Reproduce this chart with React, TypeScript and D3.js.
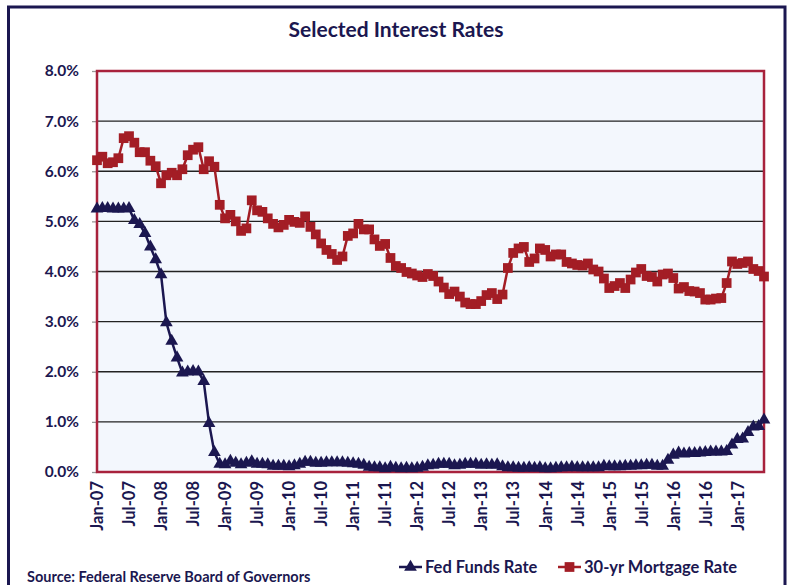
import React, { useEffect, useRef } from "react";
import * as d3 from "d3";

// monthly, Jan-07 .. Jun-17
const years = ["07", "08", "09", "10", "11", "12", "13", "14", "15", "16", "17"];
const monthNames = ["Jan", "Feb", "Mar", "Apr", "May", "Jun", "Jul", "Aug", "Sep", "Oct", "Nov", "Dec"];

const fedFunds = [
  5.25, 5.26, 5.26, 5.25, 5.25, 5.25, 5.26, 5.02, 4.94, 4.76, 4.49, 4.24,
  3.94, 2.98, 2.61, 2.28, 1.98, 2.0, 2.01, 2.0, 1.81, 0.97, 0.39, 0.16,
  0.15, 0.22, 0.18, 0.15, 0.18, 0.21, 0.16, 0.16, 0.15, 0.12, 0.12, 0.12,
  0.11, 0.13, 0.16, 0.2, 0.2, 0.18, 0.18, 0.19, 0.19, 0.19, 0.19, 0.18,
  0.17, 0.16, 0.14, 0.1, 0.09, 0.09, 0.07, 0.1, 0.08, 0.07, 0.08, 0.07,
  0.08, 0.1, 0.13, 0.14, 0.16, 0.16, 0.16, 0.13, 0.14, 0.16, 0.16, 0.16,
  0.14, 0.15, 0.14, 0.15, 0.11, 0.09, 0.09, 0.08, 0.08, 0.09, 0.08, 0.09,
  0.07, 0.07, 0.08, 0.09, 0.09, 0.1, 0.09, 0.09, 0.09, 0.09, 0.09, 0.12,
  0.11, 0.11, 0.11, 0.12, 0.12, 0.13, 0.13, 0.14, 0.14, 0.12, 0.12, 0.24,
  0.34, 0.38, 0.36, 0.37, 0.37, 0.38, 0.39, 0.4, 0.4, 0.4, 0.41, 0.54,
  0.65, 0.66, 0.79, 0.9, 0.91, 1.04,
];

const mortgage = [
  6.22, 6.29, 6.16, 6.18, 6.26, 6.66, 6.7, 6.57, 6.38, 6.38, 6.21, 6.1,
  5.76, 5.92, 5.97, 5.92, 6.04, 6.32, 6.43, 6.48, 6.04, 6.2, 6.09, 5.33,
  5.06, 5.13, 5.0, 4.81, 4.86, 5.42, 5.22, 5.19, 5.06, 4.95, 4.88, 4.93,
  5.03, 4.99, 4.97, 5.1, 4.89, 4.74, 4.56, 4.43, 4.35, 4.23, 4.3, 4.71,
  4.76, 4.95, 4.84, 4.84, 4.64, 4.51, 4.55, 4.27, 4.11, 4.07, 3.99, 3.96,
  3.92, 3.89, 3.95, 3.91, 3.8, 3.68, 3.55, 3.6, 3.5, 3.38, 3.35, 3.35,
  3.41, 3.53, 3.57, 3.45, 3.54, 4.07, 4.37, 4.46, 4.49, 4.19, 4.26, 4.46,
  4.43, 4.3, 4.34, 4.34, 4.19, 4.16, 4.13, 4.12, 4.16, 4.04, 4.0, 3.86,
  3.67, 3.71, 3.77, 3.67, 3.84, 3.98, 4.05, 3.91, 3.89, 3.8, 3.94, 3.96,
  3.87, 3.66, 3.69, 3.61, 3.6, 3.57, 3.44, 3.44, 3.46, 3.47, 3.77, 4.2,
  4.15, 4.17, 4.2, 4.05, 4.01, 3.9,
];

const yTicks = [0, 1, 2, 3, 4, 5, 6, 7, 8];

const months: string[] = [];
years.forEach((y) => monthNames.forEach((m) => months.push(`${m}-${y}`)));
const categories = months.slice(0, fedFunds.length);

const NAVY = "#1b1750";
const RED = "#a31d25";
const FONT = "Lato, 'Open Sans', sans-serif";

export default function App() {
  const ref = useRef<SVGSVGElement>(null);

  useEffect(() => {
    const svg = d3.select(ref.current);
    svg.selectAll("*").remove();
    const width = 791;
    const height = 585;
    const margin = { top: 71, right: 27, bottom: 113, left: 97 };

    svg.attr("width", width).attr("height", height).style("font-family", FONT);

    // outer frame
    svg
      .append("rect")
      .attr("x", 8.5)
      .attr("y", 7)
      .attr("width", 776.5)
      .attr("height", 600)
      .attr("fill", "white")
      .attr("stroke", NAVY)
      .attr("stroke-width", 3);

    const x = d3
      .scalePoint<string>()
      .domain(categories)
      .range([margin.left, width - margin.right]);
    const y = d3
      .scaleLinear()
      .domain([0, 8])
      .range([height - margin.bottom, margin.top]);

    // plot background
    svg
      .append("rect")
      .attr("x", margin.left)
      .attr("y", margin.top)
      .attr("width", width - margin.left - margin.right)
      .attr("height", height - margin.top - margin.bottom)
      .attr("fill", "#f3f7fd");

    // gridlines
    svg
      .append("g")
      .selectAll("line")
      .data(yTicks.slice(1, -1))
      .join("line")
      .attr("x1", margin.left)
      .attr("x2", width - margin.right)
      .attr("y1", (d) => y(d))
      .attr("y2", (d) => y(d))
      .attr("stroke", "#222")
      .attr("stroke-width", 1.3);

    // y axis
    const gy = svg
      .append("g")
      .attr("transform", `translate(${margin.left},0)`)
      .call(
        d3
          .axisLeft(y)
          .tickValues(yTicks)
          .tickSize(5)
          .tickFormat((d) => `${(+d).toFixed(1)}%`)
      );
    gy.select(".domain").remove();
    gy.selectAll(".tick line").attr("stroke", "#999").attr("stroke-width", 1.3);
    gy.selectAll(".tick text")
      .attr("x", -18)
      .attr("fill", NAVY)
      .style("font-size", "15.5px")
      .style("font-weight", "bold")
      .style("font-family", FONT);

    // x axis labels
    const gx = svg
      .append("g")
      .attr("transform", `translate(0,${height - margin.bottom})`)
      .call(
        d3
          .axisBottom(x)
          .tickValues(categories.filter((_, i) => i % 6 === 0))
          .tickSize(0)
      );
    gx.select(".domain").remove();
    gx.selectAll(".tick text")
      .attr("transform", "rotate(-90)")
      .attr("text-anchor", "end")
      .attr("x", -9)
      .attr("y", 0)
      .attr("dy", "0.35em")
      .attr("fill", NAVY)
      .style("font-size", "16.5px")
      .style("font-weight", "bold")
      .style("font-family", FONT);

    // plot border
    svg
      .append("rect")
      .attr("x", margin.left)
      .attr("y", margin.top)
      .attr("width", width - margin.left - margin.right)
      .attr("height", height - margin.top - margin.bottom)
      .attr("fill", "none")
      .attr("stroke", "#a8223c")
      .attr("stroke-width", 2.5);

    const tri = d3.symbol().type(d3.symbolTriangle).size(70);
    const sq = d3.symbol().type(d3.symbolSquare).size(95);

    const drawSeries = (vals: number[], color: string, sym: any) => {
      const line = d3
        .line<number>()
        .x((_, i) => x(categories[i])!)
        .y((d) => y(d));
      svg
        .append("path")
        .datum(vals)
        .attr("d", line)
        .attr("fill", "none")
        .attr("stroke", color)
        .attr("stroke-width", 2.5);
      svg
        .append("g")
        .selectAll("path")
        .data(vals)
        .join("path")
        .attr("d", sym)
        .attr("transform", (d, i) => `translate(${x(categories[i])},${y(d)})`)
        .attr("fill", color);
    };

    drawSeries(mortgage, RED, sq);
    drawSeries(fedFunds, NAVY, tri);

    // title
    svg
      .append("text")
      .attr("x", 396)
      .attr("y", 37)
      .attr("text-anchor", "middle")
      .attr("fill", NAVY)
      .style("font-size", "21px")
      .style("font-weight", "bold")
      .text("Selected Interest Rates");

    // legend
    const legend = [
      { label: "Fed Funds Rate", color: NAVY, sym: tri, x: 399 },
      { label: "30-yr Mortgage Rate", color: RED, sym: sq, x: 558 },
    ];
    const lg = svg.append("g");
    legend.forEach((l) => {
      lg.append("line")
        .attr("x1", l.x)
        .attr("x2", l.x + 23)
        .attr("y1", 567)
        .attr("y2", 567)
        .attr("stroke", l.color)
        .attr("stroke-width", 2.5);
      lg.append("path")
        .attr("d", l.sym)
        .attr("transform", `translate(${l.x + 11.5},567)`)
        .attr("fill", l.color);
      lg.append("text")
        .attr("x", l.x + 26)
        .attr("y", 573)
        .attr("fill", NAVY)
        .style("font-size", "16.5px")
        .style("font-weight", "bold")
        .text(l.label);
    });

    // source
    svg
      .append("text")
      .attr("x", 27)
      .attr("y", 582)
      .attr("fill", NAVY)
      .style("font-size", "14.5px")
      .style("font-weight", "bold")
      .text("Source: Federal Reserve Board of Governors");
  }, []);

  return (
    <div style={{ position: "absolute", left: 0, top: 0 }}>
      <svg ref={ref}></svg>
    </div>
  );
}
